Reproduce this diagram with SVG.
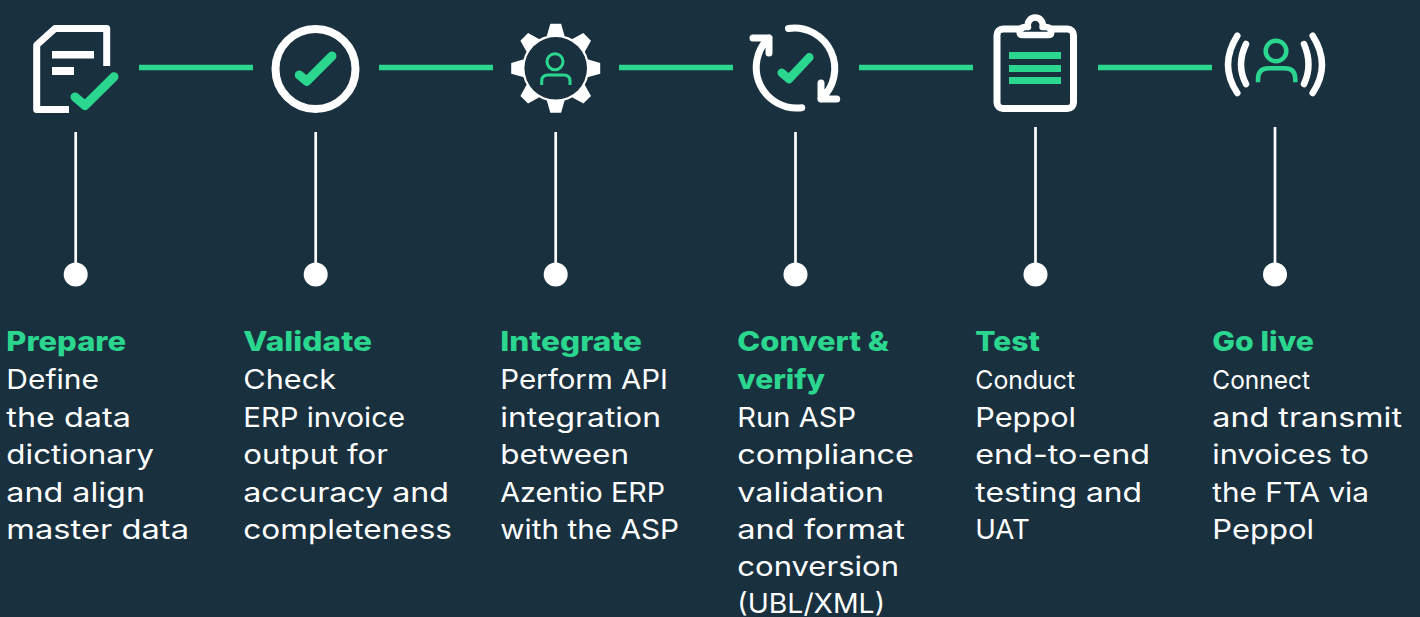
<svg xmlns="http://www.w3.org/2000/svg" width="1420" height="617" viewBox="0 0 1420 617">
<style>
.t{font-family:Inter,"Open Sans","Liberation Sans",sans-serif;font-size:27px;fill:#fff;font-weight:400}
.n{font-size:25.5px}
.h{font-family:Inter,"Open Sans","Liberation Sans",sans-serif;font-size:27px;fill:#2bd68f;font-weight:800}
.w{fill:none;stroke:#fff;stroke-linecap:round;stroke-linejoin:round}
.g{fill:none;stroke:#2bd68f;stroke-linecap:round;stroke-linejoin:round}
.gb{fill:#2bd68f}
.wb{fill:#fff}
.hl{stroke:#2bd68f;stroke-width:5.5;fill:none}
.vl{stroke:#fff;stroke-width:2.7;fill:none}
.dot{fill:#fff}
</style>
<defs>
<polygon id="tooth" points="-5.4,-44.5 5.4,-44.5 9.5,-30 -9.5,-30" fill="#fff"/>
</defs>
<rect width="1420" height="617" fill="#19303f"/>
<g id="connectors">
<path class="hl" d="M139 67.5H253M379 67.5H493M619 67.5H733M859 67.5H973M1098 67.5H1212"/>
<path class="vl" d="M75.7 132V264M315.7 132V264M555.7 132V264M795.5 132V264M1035.5 127V264M1275 127V264"/>
</g>
<g id="prepare">
<path class="w" style="stroke-linecap:butt;stroke-linejoin:round" stroke-width="7" d="M69 109.5H36.7V45L55 28.5H106.7V66"/>
<rect class="wb" x="52" y="51" width="42" height="7.5"/>
<rect class="wb" x="52" y="67" width="22" height="8"/>
<path class="g" stroke-width="9" d="M75 97L85 105.5L114 76.7"/>
<circle class="dot" cx="75.7" cy="274.5" r="12"/>
<text class="h" x="6.3" y="351" textLength="119.7" lengthAdjust="spacingAndGlyphs">Prepare</text>
<text class="t" x="6.3" y="389" textLength="92.7" lengthAdjust="spacingAndGlyphs">Define</text>
<text class="t" x="6.3" y="426.5" textLength="124.7" lengthAdjust="spacingAndGlyphs">the data</text>
<text class="t" x="6.3" y="464" textLength="147.7" lengthAdjust="spacingAndGlyphs">dictionary</text>
<text class="t" x="6.3" y="501.5" textLength="138.7" lengthAdjust="spacingAndGlyphs">and align</text>
<text class="t" x="6.3" y="538.5" textLength="182.7" lengthAdjust="spacingAndGlyphs">master data</text>
</g>
<g id="validate">
<circle class="w" cx="315.5" cy="69" r="40" stroke-width="8"/>
<path class="g" stroke-width="9" d="M299.3 75L306.7 81.2L332 56"/>
<circle class="dot" cx="315.7" cy="274.5" r="12"/>
<text class="h" x="243.3" y="351" textLength="128.7" lengthAdjust="spacingAndGlyphs">Validate</text>
<text class="t" x="243.3" y="389" textLength="92.7" lengthAdjust="spacingAndGlyphs">Check</text>
<text class="t" x="243.3" y="426.5" textLength="161.7" lengthAdjust="spacingAndGlyphs">ERP invoice</text>
<text class="t" x="243.3" y="464" textLength="144.7" lengthAdjust="spacingAndGlyphs">output for</text>
<text class="t" x="243.3" y="501.5" textLength="205.7" lengthAdjust="spacingAndGlyphs">accuracy and</text>
<text class="t" x="243.3" y="538.5" textLength="208.7" lengthAdjust="spacingAndGlyphs">completeness</text>
</g>
<g id="integrate">
<g transform="translate(555.7 68.3)">
<use href="#tooth"/><use href="#tooth" transform="rotate(45)"/><use href="#tooth" transform="rotate(90)"/><use href="#tooth" transform="rotate(135)"/><use href="#tooth" transform="rotate(180)"/><use href="#tooth" transform="rotate(225)"/><use href="#tooth" transform="rotate(270)"/><use href="#tooth" transform="rotate(315)"/>
<circle r="33.5" fill="#fff"/>
<circle r="31.3" fill="#19303f"/>
</g>
<circle class="g" cx="555" cy="61.7" r="8" stroke-width="3"/>
<path class="g" style="stroke-linecap:butt" stroke-width="3" d="M541.7 85V81Q541.7 75 548 75H563.5Q570 75 570 81V85"/>
<circle class="dot" cx="555.7" cy="274.5" r="12"/>
<text class="h" x="500.3" y="351" textLength="141.7" lengthAdjust="spacingAndGlyphs">Integrate</text>
<text class="t" x="500.3" y="389" textLength="167.7" lengthAdjust="spacingAndGlyphs">Perform API</text>
<text class="t" x="500.3" y="426.5" textLength="160.7" lengthAdjust="spacingAndGlyphs">integration</text>
<text class="t" x="500.3" y="464" textLength="128.7" lengthAdjust="spacingAndGlyphs">between</text>
<text class="t" x="500.3" y="501.5" textLength="164.7" lengthAdjust="spacingAndGlyphs">Azentio ERP</text>
<text class="t" x="500.3" y="538.5" textLength="178.7" lengthAdjust="spacingAndGlyphs">with the ASP</text>
</g>
<g id="convert">
<path class="w" stroke-width="7" d="M788.5 28.5A40.5 40.5 0 0 1 821 99M821 83V99H836.7"/>
<path class="w" stroke-width="7" d="M801.7 107.7A40.5 40.5 0 0 1 769 38M753 38H769V53"/>
<path class="g" stroke-width="8.5" d="M781.7 72.7L789 79L809.3 57.3"/>
<circle class="dot" cx="795.5" cy="274.5" r="12"/>
<text class="h" x="737.3" y="351" textLength="151.7" lengthAdjust="spacingAndGlyphs">Convert &amp;</text>
<text class="h" x="737.3" y="389" textLength="87.7" lengthAdjust="spacingAndGlyphs">verify</text>
<text class="t" x="737.3" y="426.5" textLength="118.7" lengthAdjust="spacingAndGlyphs">Run ASP</text>
<text class="t" x="737.3" y="464" textLength="176.7" lengthAdjust="spacingAndGlyphs">compliance</text>
<text class="t" x="737.3" y="501.5" textLength="146.7" lengthAdjust="spacingAndGlyphs">validation</text>
<text class="t" x="737.3" y="538.5" textLength="167.7" lengthAdjust="spacingAndGlyphs">and format</text>
<text class="t" x="737.3" y="576" textLength="161.7" lengthAdjust="spacingAndGlyphs">conversion</text>
<text class="t" x="737.3" y="613" textLength="147.7" lengthAdjust="spacingAndGlyphs">(UBL/XML)</text>
</g>
<g id="test">
<rect class="w" x="997" y="29" width="76.5" height="79.5" rx="6" stroke-width="7"/>
<path d="M1022 35H1049Q1052 35 1051 31Q1050 27 1046 27H1042.5A7.5 7.5 0 1 0 1028 27H1025Q1021 27 1020 31Q1019 35 1022 35Z" fill="#19303f" stroke="#fff" stroke-width="6.5" stroke-linejoin="round"/>
<rect class="gb" x="1009" y="52" width="52" height="7"/>
<rect class="gb" x="1009" y="65" width="52" height="7"/>
<rect class="gb" x="1009" y="77" width="52" height="7"/>
<circle class="dot" cx="1035.5" cy="274.5" r="12"/>
<text class="h" x="975.3" y="351" textLength="64.7" lengthAdjust="spacingAndGlyphs">Test</text>
<text class="t n" x="975.3" y="389" textLength="99.7" lengthAdjust="spacingAndGlyphs">Conduct</text>
<text class="t" x="975.3" y="426.5" textLength="100.7" lengthAdjust="spacingAndGlyphs">Peppol</text>
<text class="t" x="975.3" y="464" textLength="174.7" lengthAdjust="spacingAndGlyphs">end-to-end</text>
<text class="t" x="975.3" y="501.5" textLength="166.7" lengthAdjust="spacingAndGlyphs">testing and</text>
<text class="t" x="975.3" y="538.5" textLength="54.7" lengthAdjust="spacingAndGlyphs">UAT</text>
</g>
<g id="go-live">
<circle class="g" cx="1276" cy="51" r="10.3" stroke-width="4.5"/>
<path class="g" style="stroke-linecap:butt" stroke-width="4.5" d="M1258 82.3V79Q1258 68.3 1269 68.3H1284.5Q1295.3 68.3 1295.3 79V82.3"/>
<path class="w" stroke-width="6.5" d="M1237.3 35.7Q1218.7 65 1237.3 93M1246 44Q1236 65 1246 84M1312.7 35.7Q1331.3 65 1312.7 93M1304 44Q1313 65 1304 84"/>
<circle class="dot" cx="1275" cy="274.5" r="12"/>
<text class="h" x="1212.3" y="351" textLength="101.7" lengthAdjust="spacingAndGlyphs">Go live</text>
<text class="t n" x="1212.3" y="389" textLength="97.7" lengthAdjust="spacingAndGlyphs">Connect</text>
<text class="t" x="1212.3" y="426.5" textLength="189.7" lengthAdjust="spacingAndGlyphs">and transmit</text>
<text class="t" x="1212.3" y="464" textLength="156.7" lengthAdjust="spacingAndGlyphs">invoices to</text>
<text class="t" x="1212.3" y="501.5" textLength="156.7" lengthAdjust="spacingAndGlyphs">the FTA via</text>
<text class="t" x="1212.3" y="538.5" textLength="101.7" lengthAdjust="spacingAndGlyphs">Peppol</text>
</g>
</svg>
